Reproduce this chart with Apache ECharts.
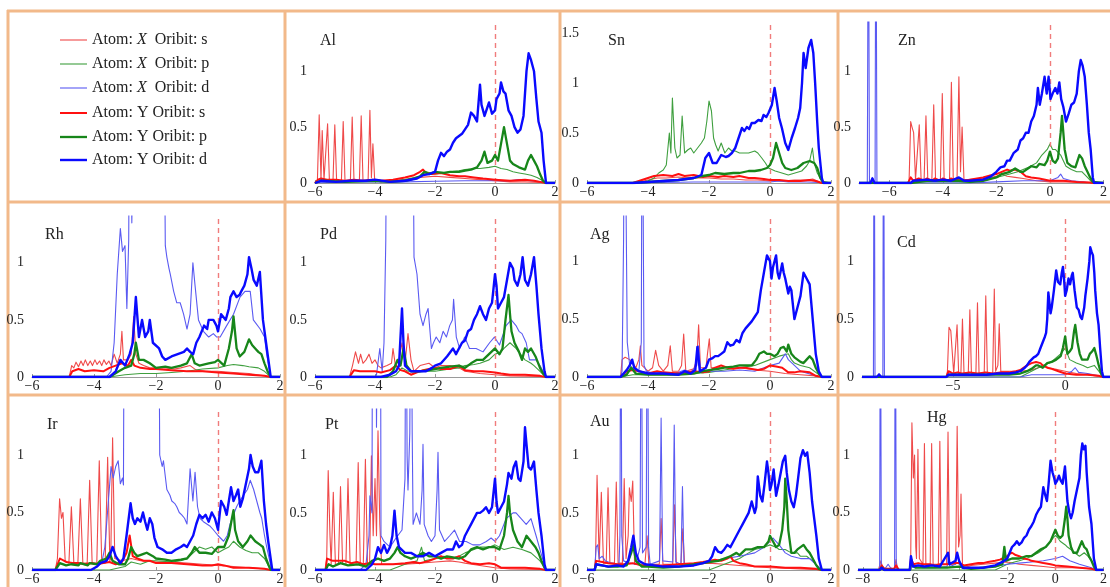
<!DOCTYPE html>
<html>
<head>
<meta charset="utf-8">
<script src="https://cdn.jsdelivr.net/npm/echarts@6/dist/echarts.min.js"></script>
<style>html,body{margin:0;padding:0;background:#fff}#c{width:1110px;height:587px}</style>
</head>
<body>
<div id="c"></div>
<script>
// ---------------- DATA ----------------
const legendLabels = ['Atom: {i|X}  Oribit: s','Atom: {i|X}  Oribit: p','Atom: {i|X}  Oribit: d','Atom: Y Oribit: s','Atom: Y Oribit: p','Atom: Y Oribit: d'];
const panelNames = ['Al','Sn','Zn','Rh','Pd','Ag','Cd','Ir','Pt','Au','Hg'];
const xTicksStd = [-6,-4,-2,0,2];
const xTicksZn = [-6,-4,-2,0,2];
const xTicksCd = [-5,0];
const xTicksHg = [-8,-6,-4,-2,0,2];
const yTicksStd = [0,0.5,1];
const yTicksSn = [0,0.5,1,1.5];

const Al_Xs=[[-6,0],[-5.95,0],[-5.92,0.02],[-5.86,0.61],[-5.8,0.03],[-5.76,0.47],[-5.7,0.03],[-5.64,0.02],[-5.58,0.53],[-5.52,0.02],[-5.4,0.02],[-5.34,0.52],[-5.28,0.02],[-5.12,0.02],[-5.06,0.55],[-5.0,0.02],[-4.82,0.02],[-4.76,0.59],[-4.7,0.02],[-4.52,0.02],[-4.46,0.6],[-4.4,0.02],[-4.23,0.02],[-4.17,0.65],[-4.12,0.05],[-4.07,0.35],[-4.01,0.02],[-3.8,0.01],[-3.5,0.02],[-3,0.03],[-2.5,0.05],[-2,0.06],[-1.5,0.05],[-1,0.04],[-0.5,0.03],[0,0.02],[0.5,0.01],[1,0.01],[1.5,0.005],[1.7,0],[2,0]];
const Al_Xp=[[-6,0],[-5.9,0.01],[-5.5,0.02],[-5,0.01],[-4.5,0.02],[-4,0.02],[-3.5,0.01],[-3,0.03],[-2.5,0.06],[-2.3,0.1],[-2,0.08],[-1.7,0.09],[-1.5,0.1],[-1.2,0.11],[-1,0.12],[-0.7,0.13],[-0.5,0.13],[-0.2,0.14],[0,0.15],[0.2,0.13],[0.4,0.12],[0.6,0.1],[0.8,0.09],[1,0.08],[1.2,0.07],[1.4,0.05],[1.6,0.02],[1.7,0],[2,0]];
const Al_Xd=[[-6,0],[-5,0.01],[-4,0.01],[-3,0.01],[-2,0.015],[-1,0.02],[0,0.02],[0.5,0.02],[0.8,0.03],[1.2,0.02],[1.6,0.01],[1.7,0],[2,0]];
const Al_Ys=[[-6,0],[-5.9,0.03],[-5.8,0.04],[-5.6,0.03],[-5.3,0.03],[-5,0.02],[-4.7,0.03],[-4.4,0.02],[-4.1,0.03],[-3.8,0.02],[-3.4,0.03],[-3,0.05],[-2.7,0.07],[-2.5,0.1],[-2.4,0.12],[-2.3,0.09],[-2.1,0.08],[-1.8,0.09],[-1.5,0.07],[-1.2,0.06],[-1,0.06],[-0.7,0.05],[-0.4,0.04],[0,0.03],[0.5,0.02],[1,0.03],[1.3,0.02],[1.5,0.01],[1.7,0],[2,0]];
const Al_Yp=[[-6,0],[-5.8,0.02],[-5,0.01],[-4,0.02],[-3.5,0.01],[-3,0.02],[-2.7,0.04],[-2.5,0.06],[-2.35,0.1],[-2.2,0.08],[-2,0.1],[-1.7,0.09],[-1.5,0.1],[-1.2,0.1],[-1,0.11],[-0.8,0.12],[-0.6,0.14],[-0.45,0.2],[-0.35,0.28],[-0.25,0.18],[-0.1,0.2],[0,0.25],[0.1,0.2],[0.2,0.35],[0.3,0.5],[0.4,0.35],[0.5,0.2],[0.6,0.17],[0.8,0.14],[1,0.12],[1.1,0.2],[1.2,0.25],[1.3,0.2],[1.4,0.15],[1.5,0.08],[1.6,0.02],[1.7,0],[2,0]];
const Al_Yd=[[-6,0],[-5.8,0.02],[-5.3,0.01],[-4.8,0.02],[-4.3,0.02],[-4,0.03],[-3.5,0.01],[-3,0.02],[-2.6,0.04],[-2.4,0.07],[-2.2,0.08],[-2,0.1],[-1.9,0.2],[-1.8,0.27],[-1.7,0.24],[-1.6,0.28],[-1.5,0.3],[-1.4,0.36],[-1.3,0.4],[-1.2,0.42],[-1.1,0.44],[-1,0.48],[-0.9,0.52],[-0.8,0.63],[-0.7,0.6],[-0.6,0.55],[-0.5,0.88],[-0.45,0.7],[-0.35,0.6],[-0.2,0.72],[-0.1,0.62],[0,0.65],[0.05,0.75],[0.15,0.8],[0.2,0.9],[0.28,0.82],[0.35,0.8],[0.45,0.65],[0.55,0.6],[0.65,0.5],[0.75,0.45],[0.85,0.48],[0.95,0.6],[1.05,1.0],[1.12,1.16],[1.2,1.1],[1.3,1.0],[1.38,0.75],[1.45,0.55],[1.55,0.45],[1.62,0.2],[1.7,0],[2,0]];

const Sn_Xs=[[-6,0],[-4.5,0],[-4.3,0.01],[-4,0.03],[-3.7,0.05],[-3.4,0.05],[-3,0.06],[-2.7,0.05],[-2.4,0.05],[-2,0.05],[-1.6,0.04],[-1.2,0.04],[-0.8,0.03],[-0.4,0.03],[0,0.02],[0.4,0.02],[0.8,0.03],[1.2,0.03],[1.4,0.04],[1.55,0.02],[1.7,0],[2,0]];
const Sn_Xp=[[-6,0],[-4.5,0],[-4.2,0.01],[-4,0.02],[-3.8,0.05],[-3.65,0.1],[-3.5,0.13],[-3.4,0.18],[-3.3,0.5],[-3.25,0.3],[-3.2,0.85],[-3.12,0.35],[-3.05,0.25],[-2.95,0.28],[-2.88,0.67],[-2.8,0.3],[-2.7,0.33],[-2.6,0.35],[-2.5,0.3],[-2.4,0.34],[-2.25,0.4],[-2.15,0.45],[-2.07,0.62],[-2.0,0.82],[-1.92,0.72],[-1.85,0.45],[-1.78,0.38],[-1.7,0.32],[-1.6,0.4],[-1.55,0.42],[-1.48,0.3],[-1.36,0.35],[-1.25,0.32],[-1.14,0.32],[-1.0,0.3],[-0.9,0.3],[-0.7,0.3],[-0.5,0.32],[-0.4,0.3],[-0.27,0.25],[-0.15,0.2],[-0.05,0.15],[0.17,0.12],[0.39,0.1],[0.6,0.08],[0.82,0.1],[1.04,0.12],[1.2,0.17],[1.3,0.22],[1.39,0.35],[1.45,0.2],[1.55,0.1],[1.7,0.02],[1.75,0],[2,0]];
const Sn_Xd=[[-6,0],[-4.5,0],[-3.5,0.005],[-2.5,0.01],[-1.5,0.01],[-0.5,0.01],[0,0.01],[0.3,0.02],[0.6,0.01],[1.2,0.01],[1.6,0.005],[1.7,0],[2,0]];
const Sn_Ys=[[-6,0],[-4.5,0],[-4.3,0.02],[-4,0.05],[-3.8,0.07],[-3.5,0.08],[-3.2,0.07],[-3,0.09],[-2.8,0.07],[-2.5,0.08],[-2.2,0.06],[-2,0.07],[-1.7,0.06],[-1.5,0.07],[-1.2,0.06],[-1,0.07],[-0.7,0.05],[-0.5,0.05],[-0.2,0.04],[0,0.03],[0.3,0.03],[0.6,0.02],[1,0.02],[1.3,0.03],[1.5,0.02],[1.7,0],[2,0]];
const Sn_Yp=[[-6,0],[-4.5,0],[-4,0.01],[-3.5,0.02],[-3,0.03],[-2.5,0.05],[-2.2,0.07],[-2,0.08],[-1.8,0.1],[-1.5,0.09],[-1.2,0.1],[-1,0.1],[-0.7,0.12],[-0.5,0.12],[-0.3,0.13],[-0.1,0.15],[0,0.18],[0.1,0.25],[0.2,0.4],[0.3,0.3],[0.4,0.2],[0.5,0.15],[0.7,0.13],[0.9,0.15],[1.1,0.2],[1.3,0.22],[1.45,0.2],[1.55,0.15],[1.65,0.05],[1.75,0],[2,0]];
const Sn_Yd=[[-6,0],[-4.5,0],[-4,0.01],[-3.5,0.02],[-3,0.03],[-2.5,0.05],[-2.25,0.08],[-2.12,0.25],[-2.0,0.3],[-1.88,0.2],[-1.75,0.2],[-1.6,0.28],[-1.45,0.26],[-1.36,0.27],[-1.25,0.3],[-1.14,0.35],[-1.03,0.45],[-0.92,0.55],[-0.84,0.52],[-0.76,0.56],[-0.68,0.54],[-0.6,0.6],[-0.5,0.6],[-0.38,0.63],[-0.28,0.62],[-0.21,0.68],[-0.12,0.66],[-0.05,0.7],[0.06,0.78],[0.15,0.95],[0.22,0.82],[0.3,0.65],[0.39,0.55],[0.5,0.4],[0.6,0.33],[0.71,0.45],[0.82,0.55],[0.92,0.65],[0.99,0.75],[1.05,1.0],[1.1,1.3],[1.17,1.15],[1.26,1.35],[1.35,1.43],[1.42,1.3],[1.48,1.0],[1.55,0.6],[1.6,0.35],[1.7,0.05],[1.75,0],[2,0]];

const Zn_Xs=[[-7.13,0],[-5.3,0],[-5.26,0.02],[-5.2,0.55],[-5.15,0.5],[-5.09,0.45],[-5.02,0.03],[-4.95,0.02],[-4.88,0.52],[-4.81,0.02],[-4.7,0.02],[-4.63,0.6],[-4.56,0.02],[-4.41,0.02],[-4.34,0.7],[-4.27,0.02],[-4.09,0.02],[-4.02,0.8],[-3.95,0.02],[-3.75,0.02],[-3.68,0.9],[-3.61,0.03],[-3.47,0.03],[-3.4,0.95],[-3.34,0.1],[-3.28,0.5],[-3.21,0.03],[-3,0.03],[-2.5,0.04],[-2.2,0.05],[-2,0.06],[-1.8,0.08],[-1.6,0.06],[-1.3,0.05],[-1,0.04],[-0.5,0.02],[0,0.01],[0.5,0.01],[1,0.01],[1.6,0],[2,0]];
const Zn_Xp=[[-7.13,0],[-3,0],[-2.5,0.02],[-2,0.05],[-1.5,0.08],[-1.2,0.1],[-1,0.12],[-0.8,0.14],[-0.5,0.18],[-0.3,0.25],[-0.1,0.3],[0,0.35],[0.1,0.3],[0.2,0.3],[0.4,0.25],[0.5,0.2],[0.6,0.15],[0.8,0.12],[1,0.1],[1.2,0.1],[1.4,0.05],[1.6,0],[2,0]];
const Zn_Xd=[[-7.13,0],[-6.82,0],[-6.78,3],[-6.74,0],[-6.68,0.02],[-6.63,0.05],[-6.58,0.02],[-6.53,0],[-6.5,3],[-6.46,0],[-3,0],[-2,0.01],[-1,0.02],[0,0.02],[0.3,0.05],[0.4,0.08],[0.5,0.04],[0.8,0.02],[1.2,0.01],[1.6,0],[2,0]];
const Zn_Ys=[[-7.13,0],[-5.3,0],[-5.2,0.05],[-5.1,0.02],[-4.9,0.04],[-4.7,0.02],[-4.6,0.04],[-4.4,0.02],[-4.3,0.04],[-4.1,0.02],[-4,0.04],[-3.8,0.02],[-3.7,0.04],[-3.5,0.02],[-3.4,0.04],[-3.2,0.02],[-3,0.03],[-2.5,0.05],[-2.2,0.07],[-2,0.08],[-1.8,0.1],[-1.6,0.12],[-1.5,0.11],[-1.3,0.12],[-1.1,0.1],[-0.9,0.06],[-0.7,0.05],[-0.4,0.04],[0,0.02],[0.5,0.02],[1,0.01],[1.5,0.005],[1.6,0],[2,0]];
const Zn_Yp=[[-7.13,0],[-5.2,0],[-4.6,0.02],[-4,0.02],[-3.4,0.02],[-3,0.01],[-2.5,0.02],[-2,0.05],[-1.8,0.08],[-1.5,0.1],[-1.3,0.13],[-1.1,0.1],[-1,0.1],[-0.7,0.15],[-0.5,0.14],[-0.4,0.17],[-0.2,0.16],[-0.1,0.2],[0,0.28],[0.1,0.2],[0.2,0.18],[0.3,0.22],[0.4,0.45],[0.45,0.6],[0.5,0.45],[0.55,0.3],[0.65,0.18],[0.8,0.15],[0.95,0.14],[1.1,0.25],[1.2,0.22],[1.3,0.15],[1.4,0.1],[1.5,0.05],[1.6,0.01],[1.65,0],[2,0]];
const Zn_Yd=[[-7.13,0],[-6.7,0],[-6.63,0.04],[-6.55,0],[-5.2,0],[-5.1,0.02],[-4.6,0.03],[-4.3,0.02],[-4,0.03],[-3.7,0.02],[-3.4,0.05],[-3.2,0.02],[-3,0.02],[-2.5,0.03],[-2.2,0.06],[-2,0.1],[-1.85,0.14],[-1.7,0.15],[-1.6,0.2],[-1.5,0.2],[-1.35,0.27],[-1.2,0.3],[-1.1,0.38],[-1,0.4],[-0.9,0.45],[-0.8,0.45],[-0.7,0.55],[-0.6,0.6],[-0.5,0.7],[-0.45,0.85],[-0.38,0.7],[-0.3,0.8],[-0.2,0.95],[-0.12,0.8],[-0.05,0.95],[0.02,0.75],[0.1,0.8],[0.2,0.85],[0.28,0.8],[0.35,0.9],[0.42,0.75],[0.5,0.68],[0.6,0.55],[0.7,0.62],[0.8,0.7],[0.9,0.72],[1.0,0.8],[1.08,1.0],[1.15,1.1],[1.22,1.05],[1.3,0.95],[1.38,0.7],[1.45,0.45],[1.52,0.3],[1.6,0.05],[1.65,0],[2,0]];

const Rh_Xs=[[-6,0],[-4.8,0],[-4.72,0.1],[-4.65,0.08],[-4.58,0.13],[-4.5,0.09],[-4.42,0.14],[-4.35,0.1],[-4.28,0.15],[-4.2,0.1],[-4.12,0.14],[-4.05,0.1],[-3.97,0.15],[-3.9,0.11],[-3.82,0.14],[-3.75,0.1],[-3.68,0.15],[-3.6,0.11],[-3.52,0.14],[-3.45,0.1],[-3.35,0.2],[-3.25,0.12],[-3.15,0.2],[-3.1,0.4],[-3.05,0.15],[-2.9,0.15],[-2.8,0.2],[-2.72,0.53],[-2.65,0.2],[-2.55,0.12],[-2.4,0.1],[-2.2,0.08],[-2,0.08],[-1.7,0.08],[-1.4,0.07],[-1.2,0.08],[-0.9,0.1],[-0.7,0.06],[-0.4,0.05],[0,0.05],[0.5,0.04],[1,0.03],[1.5,0.01],[1.7,0],[2,0]];
const Rh_Xp=[[-6,0],[-3.5,0],[-3,0.02],[-2.5,0.03],[-2,0.03],[-1.5,0.04],[-1,0.05],[-0.5,0.07],[0,0.08],[0.3,0.1],[0.5,0.11],[0.8,0.1],[1,0.09],[1.3,0.08],[1.5,0.05],[1.7,0],[2,0]];
const Rh_Xd=[[-6,0],[-3.6,0],[-3.45,0.05],[-3.35,0.3],[-3.25,0.9],[-3.15,1.3],[-3.08,1.1],[-3.0,1.15],[-2.94,0.6],[-2.88,1.2],[-2.85,3],[-2.8,3],[-2.78,1.35],[-2.7,3],[-1.75,3],[-1.7,1.15],[-1.65,1.05],[-1.58,0.95],[-1.54,0.9],[-1.43,0.75],[-1.33,0.65],[-1.22,0.65],[-1.11,0.55],[-1.0,0.42],[-0.9,0.55],[-0.81,1.0],[-0.74,0.8],[-0.63,0.5],[-0.47,0.4],[-0.3,0.35],[-0.15,0.38],[-0.04,0.35],[0.07,0.35],[0.28,0.45],[0.5,0.55],[0.71,0.7],[0.87,0.75],[1.04,0.75],[1.14,0.5],[1.36,0.42],[1.5,0.35],[1.57,0.2],[1.7,0],[2,0]];
const Rh_Ys=[[-6,0],[-4.8,0],[-4.7,0.05],[-4.5,0.07],[-4.3,0.05],[-4,0.06],[-3.7,0.05],[-3.5,0.08],[-3.3,0.1],[-3.1,0.12],[-2.9,0.1],[-2.8,0.15],[-2.7,0.1],[-2.5,0.08],[-2.2,0.07],[-2,0.07],[-1.5,0.06],[-1,0.05],[-0.5,0.05],[0,0.04],[0.5,0.03],[1,0.02],[1.5,0.01],[1.7,0],[2,0]];
const Rh_Yp=[[-6,0],[-3.5,0],[-3.2,0.05],[-3,0.08],[-2.8,0.1],[-2.7,0.2],[-2.65,0.3],[-2.55,0.15],[-2.4,0.15],[-2.2,0.12],[-2,0.08],[-1.7,0.09],[-1.5,0.08],[-1.2,0.1],[-1,0.12],[-0.85,0.2],[-0.75,0.12],[-0.6,0.1],[-0.3,0.12],[-0.1,0.13],[0,0.15],[0.2,0.1],[0.35,0.25],[0.45,0.4],[0.5,0.53],[0.6,0.25],[0.7,0.18],[0.85,0.22],[1.0,0.33],[1.1,0.28],[1.2,0.25],[1.3,0.22],[1.4,0.2],[1.5,0.12],[1.6,0.05],[1.7,0],[2,0]];
const Rh_Yd=[[-6,0],[-3.5,0],[-3.3,0.05],[-3.15,0.15],[-3.0,0.1],[-2.85,0.2],[-2.75,0.3],[-2.65,0.7],[-2.55,0.35],[-2.45,0.5],[-2.35,0.35],[-2.25,0.4],[-2.2,0.5],[-2.1,0.3],[-1.9,0.25],[-1.8,0.18],[-1.7,0.15],[-1.5,0.18],[-1.3,0.2],[-1.1,0.22],[-1.0,0.25],[-0.9,0.22],[-0.8,0.2],[-0.7,0.3],[-0.6,0.35],[-0.45,0.45],[-0.35,0.42],[-0.3,0.5],[-0.15,0.5],[-0.05,0.45],[0,0.4],[0.1,0.55],[0.25,0.5],[0.35,0.6],[0.4,0.7],[0.5,0.75],[0.6,0.7],[0.7,0.72],[0.75,0.75],[0.85,0.8],[0.95,0.9],[1.0,1.05],[1.08,0.95],[1.15,0.85],[1.25,0.8],[1.35,0.92],[1.45,0.5],[1.55,0.3],[1.6,0.2],[1.7,0],[2,0]];

const Pd_Xs=[[-6,0],[-4.85,0],[-4.75,0.1],[-4.65,0.22],[-4.55,0.12],[-4.48,0.2],[-4.4,0.12],[-4.3,0.15],[-4.2,0.2],[-4.1,0.12],[-4.0,0.15],[-3.9,0.1],[-3.8,0.08],[-3.6,0.1],[-3.45,0.12],[-3.4,0.25],[-3.32,0.1],[-3.2,0.15],[-3.1,0.3],[-3.0,0.12],[-2.9,0.38],[-2.8,0.15],[-2.7,0.05],[-2.5,0.1],[-2.2,0.12],[-2,0.08],[-1.8,0.1],[-1.5,0.1],[-1.2,0.08],[-1,0.05],[-0.5,0.03],[0,0.02],[0.5,0.01],[1.5,0.005],[1.7,0],[2,0]];
const Pd_Xp=[[-6,0],[-3.5,0],[-3.3,0.02],[-3.1,0.08],[-2.9,0.05],[-2.5,0.05],[-2,0.05],[-1.5,0.07],[-1.2,0.08],[-1,0.1],[-0.7,0.11],[-0.5,0.12],[-0.2,0.15],[0,0.2],[0.2,0.22],[0.3,0.25],[0.5,0.3],[0.7,0.25],[0.85,0.2],[1,0.15],[1.2,0.12],[1.3,0.1],[1.5,0.05],[1.7,0],[2,0]];
const Pd_Xd=[[-6,0],[-4,0],[-3.95,0.02],[-3.84,0.25],[-3.76,0.05],[-3.7,0.3],[-3.64,1.2],[-3.6,3],[-2.75,3],[-2.7,1.05],[-2.65,1.05],[-2.6,0.9],[-2.5,0.55],[-2.4,0.45],[-2.3,0.55],[-2.23,0.6],[-2.12,0.25],[-2.05,0.3],[-1.96,0.35],[-1.84,0.3],[-1.73,0.4],[-1.62,0.35],[-1.51,0.45],[-1.42,0.5],[-1.38,0.68],[-1.29,0.35],[-1.18,0.25],[-1.01,0.35],[-0.85,0.25],[-0.63,0.25],[-0.4,0.22],[-0.18,0.3],[-0.02,0.35],[0.15,0.28],[0.37,0.45],[0.54,0.5],[0.7,0.45],[0.8,0.4],[0.9,0.38],[1.04,0.3],[1.15,0.15],[1.37,0.15],[1.5,0.1],[1.6,0.05],[1.7,0],[2,0]];
const Pd_Ys=[[-6,0],[-4.85,0],[-4.7,0.06],[-4.5,0.05],[-4.2,0.05],[-4,0.05],[-3.8,0.04],[-3.5,0.06],[-3.3,0.1],[-3.15,0.06],[-3.0,0.05],[-2.8,0.02],[-2.6,0.04],[-2.4,0.06],[-2.2,0.07],[-2,0.08],[-1.8,0.07],[-1.5,0.07],[-1.2,0.1],[-1.0,0.06],[-0.7,0.05],[-0.4,0.05],[0,0.04],[0.2,0.03],[0.5,0.02],[1,0.02],[1.5,0.01],[1.7,0],[2,0]];
const Pd_Yp=[[-6,0],[-3.6,0],[-3.4,0.05],[-3.25,0.15],[-3.15,0.1],[-3.05,0.25],[-2.95,0.1],[-2.8,0.05],[-2.5,0.05],[-2.2,0.06],[-2,0.07],[-1.8,0.08],[-1.5,0.09],[-1.2,0.1],[-1,0.08],[-0.8,0.12],[-0.6,0.15],[-0.4,0.15],[-0.2,0.2],[0,0.25],[0.15,0.2],[0.25,0.25],[0.35,0.5],[0.45,0.72],[0.5,0.55],[0.55,0.4],[0.65,0.3],[0.8,0.22],[0.9,0.15],[1.0,0.25],[1.1,0.22],[1.2,0.25],[1.35,0.18],[1.5,0.08],[1.6,0.03],[1.7,0],[2,0]];
const Pd_Yd=[[-6,0],[-3.8,0],[-3.5,0.02],[-3.3,0.05],[-3.2,0.1],[-3.1,0.6],[-3.05,0.3],[-3.0,0.1],[-2.8,0.05],[-2.5,0.05],[-2.3,0.05],[-2.1,0.08],[-2.0,0.1],[-1.8,0.12],[-1.6,0.18],[-1.4,0.25],[-1.3,0.2],[-1.1,0.3],[-1.0,0.32],[-0.9,0.4],[-0.8,0.42],[-0.7,0.5],[-0.6,0.55],[-0.5,0.62],[-0.4,0.55],[-0.3,0.5],[-0.2,0.6],[-0.1,0.65],[0,0.9],[0.05,0.8],[0.1,0.6],[0.2,0.65],[0.3,0.7],[0.4,0.85],[0.5,1.0],[0.6,0.95],[0.65,0.85],[0.75,0.8],[0.85,0.9],[0.92,1.05],[1.0,0.85],[1.1,0.8],[1.2,0.9],[1.3,1.05],[1.38,0.8],[1.45,0.55],[1.55,0.25],[1.65,0.05],[1.7,0],[2,0]];

const Ag_Xs=[[-6,0],[-4.9,0],[-4.85,0.15],[-4.75,0.17],[-4.6,0.15],[-4.5,0.12],[-4.4,0.08],[-4.3,0.15],[-4.25,0.27],[-4.2,0.1],[-4.0,0.05],[-3.85,0.08],[-3.75,0.23],[-3.65,0.1],[-3.5,0.05],[-3.35,0.1],[-3.27,0.27],[-3.2,0.05],[-3.0,0.05],[-2.9,0.1],[-2.83,0.37],[-2.76,0.05],[-2.5,0.07],[-2.4,0.15],[-2.34,0.45],[-2.28,0.08],[-2.1,0.08],[-2.05,0.2],[-1.99,0.33],[-1.93,0.08],[-1.7,0.08],[-1.5,0.09],[-1.2,0.08],[-1,0.08],[-0.5,0.06],[0,0.05],[0.5,0.03],[1,0.02],[1.5,0.01],[1.7,0],[2,0]];
const Ag_Xp=[[-6,0],[-4.9,0],[-4.5,0.02],[-4,0.02],[-3,0.02],[-2.5,0.03],[-2,0.04],[-1.5,0.06],[-1,0.08],[-0.5,0.1],[0,0.15],[0.3,0.18],[0.6,0.2],[0.7,0.15],[0.8,0.12],[1.0,0.1],[1.3,0.08],[1.6,0.02],[1.7,0],[2,0]];
const Ag_Xd=[[-6,0],[-4.9,0],[-4.85,0.05],[-4.8,1.2],[-4.77,3],[-4.72,3],[-4.68,0.3],[-4.6,0.1],[-4.53,0.08],[-4.4,0.06],[-4.3,0.05],[-4.22,0.3],[-4.19,3],[-4.16,3],[-4.13,0.1],[-4.05,0.05],[-3.8,0.03],[-3.5,0.04],[-3.2,0.03],[-3.0,0.04],[-2.8,0.06],[-2.6,0.04],[-2.4,0.1],[-2.34,0.27],[-2.28,0.05],[-2,0.05],[-1.5,0.05],[-1,0.06],[-0.5,0.05],[-0.2,0.08],[0,0.1],[0.3,0.12],[0.5,0.2],[0.6,0.15],[0.8,0.1],[1,0.05],[1.5,0.01],[1.7,0],[2,0]];
const Ag_Ys=[[-6,0],[-4.9,0],[-4.7,0.05],[-4.5,0.06],[-4.3,0.05],[-4,0.03],[-3.7,0.05],[-3.5,0.04],[-3,0.03],[-2.7,0.04],[-2.5,0.05],[-2.2,0.04],[-2,0.05],[-1.8,0.08],[-1.6,0.1],[-1.4,0.08],[-1.2,0.07],[-1,0.08],[-0.8,0.08],[-0.6,0.07],[-0.4,0.06],[-0.2,0.07],[0,0.1],[0.2,0.09],[0.4,0.08],[0.6,0.04],[0.8,0.04],[1,0.05],[1.3,0.04],[1.5,0.01],[1.7,0],[2,0]];
const Ag_Yp=[[-6,0],[-4.9,0],[-4.7,0.02],[-4.55,0.08],[-4.4,0.03],[-4,0.02],[-3.5,0.02],[-3,0.02],[-2.5,0.03],[-2.2,0.05],[-2,0.06],[-1.7,0.07],[-1.5,0.08],[-1.2,0.09],[-1,0.1],[-0.8,0.1],[-0.6,0.1],[-0.45,0.15],[-0.35,0.2],[-0.2,0.22],[-0.1,0.2],[0,0.2],[0.15,0.18],[0.25,0.2],[0.35,0.25],[0.45,0.26],[0.55,0.22],[0.6,0.28],[0.7,0.2],[0.8,0.17],[0.9,0.15],[1.0,0.13],[1.1,0.12],[1.2,0.15],[1.3,0.18],[1.4,0.15],[1.5,0.08],[1.6,0.03],[1.7,0],[2,0]];
const Ag_Yd=[[-6,0],[-4.9,0],[-4.8,0.03],[-4.7,0.06],[-4.6,0.1],[-4.52,0.15],[-4.45,0.08],[-4.3,0.05],[-4.0,0.03],[-3.5,0.03],[-3,0.02],[-2.8,0.05],[-2.6,0.03],[-2.45,0.06],[-2.38,0.26],[-2.3,0.05],[-2.1,0.08],[-2.0,0.15],[-1.9,0.16],[-1.8,0.18],[-1.7,0.18],[-1.6,0.2],[-1.5,0.22],[-1.4,0.3],[-1.3,0.27],[-1.2,0.28],[-1.1,0.32],[-1.0,0.3],[-0.9,0.38],[-0.8,0.42],[-0.7,0.45],[-0.6,0.48],[-0.5,0.52],[-0.4,0.56],[-0.3,0.75],[-0.2,0.9],[-0.1,1.05],[0,1.0],[0.05,0.85],[0.1,0.95],[0.2,1.05],[0.25,0.9],[0.3,0.85],[0.4,0.98],[0.45,0.9],[0.5,0.85],[0.6,0.72],[0.65,0.78],[0.7,0.75],[0.8,0.5],[0.9,0.6],[1.0,0.7],[1.1,0.9],[1.2,0.85],[1.3,0.8],[1.4,0.5],[1.5,0.2],[1.6,0.05],[1.7,0],[2,0]];

const Cd_Xs=[[-9.06,0],[-5.3,0],[-5.25,0.05],[-5.18,0.43],[-5.1,0.4],[-5.03,0.2],[-4.97,0.03],[-4.89,0.03],[-4.82,0.45],[-4.75,0.03],[-4.65,0.03],[-4.58,0.5],[-4.51,0.03],[-4.32,0.03],[-4.25,0.58],[-4.18,0.03],[-3.98,0.03],[-3.91,0.64],[-3.84,0.03],[-3.61,0.03],[-3.54,0.7],[-3.47,0.03],[-3.23,0.03],[-3.16,0.76],[-3.1,0.05],[-3.0,0.1],[-2.94,0.46],[-2.87,0.05],[-2.5,0.05],[-2,0.05],[-1.5,0.06],[-1.2,0.08],[-1,0.1],[-0.7,0.08],[-0.5,0.07],[0,0.05],[0.5,0.03],[1,0.02],[1.5,0.005],[1.7,0],[2,0]];
const Cd_Xp=[[-9.06,0],[-2,0],[-1.5,0.05],[-1.2,0.08],[-1,0.1],[-0.7,0.12],[-0.5,0.15],[-0.2,0.2],[0,0.25],[0.1,0.2],[0.2,0.15],[0.5,0.12],[0.8,0.1],[1,0.08],[1.3,0.1],[1.5,0.05],[1.7,0],[2,0]];
const Cd_Xd=[[-9.06,0],[-8.55,0],[-8.52,3],[-8.48,0],[-8.35,0.01],[-8.3,0.03],[-8.25,0.01],[-8.13,0],[-8.1,3],[-8.06,0],[-2,0],[-1.5,0.02],[-1,0.02],[-0.5,0.02],[0,0.02],[0.3,0.05],[0.45,0.08],[0.6,0.04],[1,0.03],[1.5,0.01],[1.7,0],[2,0]];
const Cd_Ys=[[-9.06,0],[-5.3,0],[-5.2,0.05],[-5.0,0.03],[-4.8,0.04],[-4.6,0.03],[-4.25,0.04],[-3.9,0.03],[-3.55,0.04],[-3.2,0.03],[-2.9,0.04],[-2.5,0.04],[-2.2,0.05],[-2,0.06],[-1.7,0.1],[-1.5,0.12],[-1.3,0.13],[-1.1,0.12],[-1,0.1],[-0.8,0.08],[-0.6,0.07],[-0.3,0.05],[0,0.03],[0.5,0.02],[1,0.02],[1.5,0.01],[1.7,0],[2,0]];
const Cd_Yp=[[-9.06,0],[-5.3,0],[-5.2,0.02],[-4.5,0.02],[-3.5,0.02],[-3,0.02],[-2.5,0.02],[-2,0.03],[-1.7,0.05],[-1.5,0.07],[-1.3,0.1],[-1.2,0.1],[-1,0.08],[-0.8,0.12],[-0.6,0.13],[-0.4,0.15],[-0.2,0.18],[-0.1,0.25],[0,0.35],[0.1,0.2],[0.2,0.22],[0.3,0.25],[0.4,0.4],[0.45,0.45],[0.55,0.3],[0.65,0.2],[0.75,0.15],[0.9,0.15],[1.0,0.15],[1.1,0.2],[1.2,0.22],[1.3,0.25],[1.4,0.18],[1.5,0.1],[1.6,0.03],[1.7,0],[2,0]];
const Cd_Yd=[[-9.06,0],[-8.4,0],[-8.3,0.02],[-8.2,0],[-5.3,0],[-5.2,0.02],[-4.5,0.02],[-4,0.02],[-3.5,0.02],[-3,0.03],[-2.5,0.03],[-2.2,0.04],[-2,0.05],[-1.8,0.08],[-1.7,0.1],[-1.6,0.13],[-1.5,0.15],[-1.4,0.17],[-1.3,0.18],[-1.2,0.2],[-1.1,0.25],[-1.0,0.3],[-0.9,0.35],[-0.85,0.38],[-0.8,0.5],[-0.75,0.73],[-0.65,0.55],[-0.6,0.6],[-0.5,0.75],[-0.4,0.92],[-0.32,0.82],[-0.22,0.8],[-0.15,0.9],[-0.1,0.95],[-0.05,0.85],[0,0.7],[0.07,0.75],[0.15,0.85],[0.22,0.8],[0.3,0.88],[0.34,0.9],[0.42,0.75],[0.52,0.6],[0.6,0.58],[0.68,0.52],[0.75,0.5],[0.85,0.6],[0.9,0.7],[1.0,0.85],[1.08,1.0],[1.12,1.12],[1.18,1.08],[1.24,1.05],[1.3,0.9],[1.34,0.75],[1.42,0.55],[1.49,0.45],[1.56,0.25],[1.64,0.05],[1.7,0],[2,0]];

const Ir_Xs=[[-6,0],[-5.25,0],[-5.18,0.1],[-5.11,0.62],[-5.05,0.45],[-5.0,0.5],[-4.93,0.08],[-4.81,0.06],[-4.73,0.55],[-4.65,0.06],[-4.52,0.06],[-4.44,0.62],[-4.36,0.06],[-4.22,0.06],[-4.14,0.78],[-4.06,0.06],[-3.91,0.06],[-3.83,0.95],[-3.75,0.06],[-3.64,0.06],[-3.56,0.98],[-3.49,0.08],[-3.46,0.1],[-3.4,1.15],[-3.33,0.1],[-3.1,0.08],[-2.8,0.1],[-2.5,0.08],[-2,0.07],[-1.5,0.07],[-1,0.06],[-0.5,0.05],[0,0.04],[0.5,0.03],[1,0.02],[1.5,0.01],[1.7,0],[2,0]];
const Ir_Xp=[[-6,0],[-3.5,0],[-3,0.03],[-2.8,0.07],[-2.5,0.05],[-2.2,0.08],[-2,0.08],[-1.5,0.07],[-1.2,0.08],[-1,0.1],[-0.8,0.15],[-0.6,0.2],[-0.4,0.18],[-0.2,0.2],[0,0.15],[0.2,0.18],[0.35,0.2],[0.5,0.25],[0.7,0.2],[0.9,0.17],[1.1,0.15],[1.3,0.15],[1.5,0.1],[1.7,0],[2,0]];
const Ir_Xd=[[-6,0],[-4.1,0],[-3.9,0.03],[-3.75,0.06],[-3.65,0.2],[-3.55,0.55],[-3.45,0.9],[-3.38,0.8],[-3.3,0.9],[-3.22,0.95],[-3.15,0.75],[-3.08,0.8],[-3.05,0.74],[-3.02,3],[-1.92,3],[-1.88,1.0],[-1.8,0.9],[-1.76,0.95],[-1.65,0.7],[-1.55,0.65],[-1.49,0.6],[-1.4,0.58],[-1.33,0.55],[-1.25,0.5],[-1.17,0.48],[-1.08,0.45],[-1.0,0.4],[-0.9,0.88],[-0.81,0.6],[-0.74,0.85],[-0.66,0.55],[-0.58,0.45],[-0.47,0.42],[-0.36,0.4],[-0.25,0.38],[-0.15,0.35],[0.0,0.3],[0.18,0.25],[0.3,0.3],[0.39,0.4],[0.5,0.48],[0.6,0.55],[0.7,0.6],[0.82,0.65],[0.95,0.7],[1.04,0.78],[1.15,0.7],[1.25,0.6],[1.35,0.5],[1.41,0.45],[1.5,0.3],[1.57,0.2],[1.73,0],[2,0]];
const Ir_Ys=[[-6,0],[-5.25,0],[-5.1,0.1],[-4.9,0.07],[-4.7,0.06],[-4.5,0.06],[-4.3,0.05],[-4.1,0.06],[-3.9,0.05],[-3.7,0.06],[-3.5,0.07],[-3.3,0.05],[-3.1,0.07],[-2.95,0.15],[-2.85,0.3],[-2.75,0.12],[-2.6,0.1],[-2.4,0.08],[-2.2,0.08],[-2,0.06],[-1.5,0.06],[-1,0.05],[-0.5,0.04],[-0.2,0.04],[0,0.05],[0.2,0.04],[0.5,0.02],[1,0.02],[1.5,0.01],[1.7,0],[2,0]];
const Ir_Yp=[[-6,0],[-5.25,0],[-5.1,0.06],[-4.9,0.04],[-4.73,0.05],[-4.5,0.04],[-4.44,0.06],[-4.2,0.04],[-4.14,0.06],[-3.9,0.05],[-3.8,0.08],[-3.6,0.1],[-3.5,0.15],[-3.4,0.08],[-3.2,0.05],[-3,0.05],[-2.9,0.1],[-2.8,0.2],[-2.7,0.15],[-2.6,0.12],[-2.4,0.14],[-2.3,0.15],[-2.1,0.12],[-2,0.1],[-1.7,0.09],[-1.5,0.08],[-1.2,0.09],[-1,0.1],[-0.85,0.15],[-0.75,0.2],[-0.6,0.15],[-0.4,0.15],[-0.2,0.14],[0,0.2],[0.2,0.2],[0.35,0.3],[0.45,0.45],[0.5,0.52],[0.55,0.35],[0.65,0.25],[0.8,0.2],[0.95,0.25],[1.05,0.3],[1.2,0.25],[1.35,0.22],[1.45,0.2],[1.55,0.1],[1.65,0.03],[1.7,0],[2,0]];
const Ir_Yd=[[-6,0],[-4.1,0],[-3.9,0.03],[-3.8,0.06],[-3.6,0.08],[-3.5,0.12],[-3.4,0.2],[-3.3,0.12],[-3.15,0.06],[-3.05,0.1],[-2.95,0.3],[-2.88,0.45],[-2.82,0.58],[-2.75,0.45],[-2.68,0.4],[-2.6,0.45],[-2.5,0.42],[-2.42,0.5],[-2.35,0.42],[-2.28,0.35],[-2.2,0.45],[-2.12,0.4],[-2.05,0.28],[-1.95,0.2],[-1.8,0.18],[-1.65,0.15],[-1.5,0.15],[-1.35,0.18],[-1.2,0.2],[-1.1,0.22],[-1.0,0.2],[-0.9,0.25],[-0.8,0.3],[-0.7,0.4],[-0.6,0.48],[-0.5,0.45],[-0.4,0.48],[-0.3,0.42],[-0.2,0.5],[-0.1,0.45],[0,0.35],[0.1,0.6],[0.2,0.55],[0.28,0.48],[0.35,0.6],[0.42,0.72],[0.5,0.6],[0.58,0.65],[0.65,0.7],[0.72,0.55],[0.8,0.62],[0.9,0.75],[1.0,0.88],[1.05,1.0],[1.12,0.9],[1.2,0.85],[1.3,0.85],[1.4,0.95],[1.48,0.6],[1.55,0.4],[1.62,0.25],[1.75,0],[2,0]];

const Pt_Xs=[[-6,0],[-5.65,0],[-5.61,0.1],[-5.56,0.87],[-5.5,0.3],[-5.46,0.05],[-5.39,0.68],[-5.32,0.05],[-5.22,0.05],[-5.15,0.73],[-5.08,0.05],[-4.97,0.05],[-4.9,0.8],[-4.83,0.05],[-4.63,0.05],[-4.56,0.94],[-4.49,0.05],[-4.39,0.05],[-4.32,0.97],[-4.25,0.05],[-4.18,0.05],[-4.12,1.0],[-4.06,0.3],[-4.0,0.8],[-3.95,0.3],[-3.9,1.22],[-3.84,0.4],[-3.78,0.05],[-3.5,0.05],[-3.0,0.05],[-2.5,0.06],[-2.0,0.07],[-1.5,0.08],[-1.2,0.07],[-1,0.06],[-0.5,0.04],[0,0.02],[0.5,0.01],[1.5,0.005],[1.7,0],[2,0]];
const Pt_Xp=[[-6,0],[-3.5,0],[-3,0.05],[-2.6,0.08],[-2.45,0.2],[-2.35,0.08],[-2,0.1],[-1.7,0.12],[-1.5,0.1],[-1.2,0.12],[-1,0.15],[-0.7,0.18],[-0.5,0.2],[-0.2,0.2],[0,0.22],[0.3,0.18],[0.6,0.2],[0.9,0.18],[1.2,0.15],[1.5,0.08],[1.7,0],[2,0]];
const Pt_Xd=[[-6,0],[-4.5,0],[-4.3,0.05],[-4.2,0.3],[-4.17,0.65],[-4.1,0.5],[-4.08,3],[-3.98,3],[-3.95,1.25],[-3.9,3],[-3.82,3],[-3.8,0.3],[-3.7,0.25],[-3.5,0.2],[-3.3,0.28],[-3.1,0.35],[-3.0,0.8],[-2.97,3],[-2.93,1.0],[-2.9,0.7],[-2.84,1.2],[-2.8,3],[-2.76,1.2],[-2.73,0.4],[-2.62,0.5],[-2.5,0.4],[-2.43,0.7],[-2.4,1.1],[-2.36,0.4],[-2.23,0.3],[-2.12,0.25],[-2.0,0.3],[-1.93,0.7],[-1.9,1.03],[-1.85,0.35],[-1.68,0.25],[-1.51,0.3],[-1.35,0.35],[-1.18,0.25],[-0.96,0.25],[-0.74,0.22],[-0.51,0.22],[-0.29,0.25],[-0.13,0.28],[0,0.25],[0.15,0.3],[0.37,0.45],[0.6,0.5],[0.7,0.5],[0.87,0.45],[1.04,0.4],[1.2,0.45],[1.37,0.3],[1.53,0.15],[1.7,0],[2,0]];
const Pt_Ys=[[-6,0],[-5.65,0],[-5.6,0.1],[-5.4,0.08],[-5.2,0.08],[-5,0.08],[-4.8,0.06],[-4.6,0.07],[-4.4,0.05],[-4.2,0.06],[-4,0.05],[-3.7,0.05],[-3.4,0.05],[-3,0.06],[-2.7,0.07],[-2.5,0.06],[-2.2,0.08],[-2,0.1],[-1.8,0.12],[-1.6,0.1],[-1.4,0.1],[-1.2,0.12],[-1,0.08],[-0.8,0.06],[-0.5,0.05],[-0.2,0.06],[0,0.05],[0.2,0.02],[0.5,0.02],[1,0.02],[1.5,0.01],[1.7,0],[2,0]];
const Pt_Yp=[[-6,0],[-5.65,0],[-5.55,0.05],[-5.4,0.03],[-5.15,0.06],[-4.9,0.04],[-4.56,0.05],[-4.3,0.03],[-4.1,0.08],[-3.9,0.1],[-3.7,0.08],[-3.5,0.1],[-3.35,0.15],[-3.25,0.2],[-3.15,0.15],[-3.0,0.12],[-2.8,0.1],[-2.6,0.12],[-2.4,0.15],[-2.2,0.12],[-2.0,0.12],[-1.8,0.1],[-1.6,0.12],[-1.4,0.11],[-1.2,0.1],[-1.0,0.12],[-0.8,0.18],[-0.6,0.2],[-0.4,0.18],[-0.2,0.2],[0,0.2],[0.15,0.18],[0.3,0.3],[0.4,0.5],[0.45,0.65],[0.5,0.5],[0.6,0.35],[0.75,0.25],[0.9,0.2],[1.05,0.3],[1.2,0.25],[1.35,0.2],[1.45,0.15],[1.55,0.08],[1.65,0.02],[1.7,0],[2,0]];
const Pt_Yd=[[-6,0],[-4.3,0],[-4.1,0.05],[-4.0,0.1],[-3.9,0.2],[-3.8,0.15],[-3.7,0.22],[-3.6,0.15],[-3.5,0.2],[-3.42,0.3],[-3.35,0.52],[-3.28,0.3],[-3.2,0.2],[-3.0,0.15],[-2.8,0.15],[-2.6,0.12],[-2.4,0.12],[-2.2,0.15],[-2.0,0.12],[-1.8,0.15],[-1.6,0.18],[-1.4,0.18],[-1.3,0.25],[-1.2,0.2],[-1.1,0.22],[-1.0,0.3],[-0.9,0.35],[-0.8,0.4],[-0.7,0.45],[-0.6,0.5],[-0.5,0.5],[-0.4,0.52],[-0.3,0.55],[-0.2,0.5],[-0.1,0.55],[0,0.8],[0.05,0.6],[0.1,0.5],[0.2,0.55],[0.3,0.6],[0.4,0.75],[0.45,0.85],[0.55,0.8],[0.62,0.9],[0.7,0.95],[0.78,0.8],[0.85,0.78],[0.95,0.95],[1.0,1.25],[1.05,1.1],[1.12,0.9],[1.2,0.88],[1.3,0.95],[1.38,0.7],[1.45,0.5],[1.55,0.3],[1.65,0.05],[1.7,0],[2,0]];

const Au_Xs=[[-6,0],[-5.75,0],[-5.72,0.1],[-5.67,0.83],[-5.6,0.08],[-5.53,0.68],[-5.46,0.06],[-5.37,0.06],[-5.31,0.72],[-5.25,0.06],[-5.1,0.06],[-5.04,0.77],[-4.98,0.06],[-4.84,0.06],[-4.78,0.8],[-4.72,0.1],[-4.65,0.3],[-4.61,0.72],[-4.55,0.6],[-4.5,0.78],[-4.44,0.05],[-4.1,0.05],[-4.03,0.3],[-3.97,0.05],[-3.63,0.05],[-3.57,0.45],[-3.51,0.05],[-3.19,0.05],[-3.13,0.57],[-3.07,0.05],[-2.92,0.05],[-2.86,0.36],[-2.8,0.05],[-2.5,0.05],[-2,0.06],[-1.5,0.05],[-1,0.04],[-0.5,0.03],[0,0.02],[0.5,0.015],[1,0.01],[1.5,0.005],[1.7,0],[2,0]];
const Au_Xp=[[-6,0],[-2,0],[-1.5,0.05],[-1.2,0.08],[-1,0.1],[-0.7,0.15],[-0.5,0.18],[-0.2,0.2],[0,0.22],[0.2,0.2],[0.3,0.18],[0.5,0.18],[0.7,0.15],[0.9,0.15],[1.0,0.12],[1.2,0.12],[1.4,0.08],[1.5,0.05],[1.7,0],[2,0]];
const Au_Xd=[[-6,0],[-5.75,0],[-5.7,0.2],[-5.65,0.22],[-5.6,0.1],[-5.5,0.12],[-5.4,0.08],[-5.2,0.06],[-4.95,0.05],[-4.92,0.3],[-4.89,3],[-4.86,0.3],[-4.8,0.08],[-4.6,0.06],[-4.4,0.05],[-4.26,0.2],[-4.22,3],[-4.18,0.15],[-4.06,0.2],[-4.02,3],[-3.98,0.2],[-3.93,0.05],[-3.62,0.08],[-3.57,1.33],[-3.52,0.08],[-3.19,0.07],[-3.14,1.27],[-3.09,0.07],[-2.92,0.05],[-2.87,0.73],[-2.82,0.05],[-2.5,0.05],[-2,0.07],[-1.5,0.1],[-1,0.12],[-0.5,0.15],[-0.2,0.2],[0,0.25],[0.1,0.28],[0.3,0.22],[0.5,0.15],[0.7,0.12],[1,0.1],[1.3,0.1],[1.5,0.05],[1.7,0],[2,0]];
const Au_Ys=[[-6,0],[-5.75,0],[-5.7,0.08],[-5.5,0.07],[-5.3,0.06],[-5,0.05],[-4.8,0.05],[-4.5,0.06],[-4.2,0.04],[-4,0.04],[-3.5,0.04],[-3,0.05],[-2.5,0.06],[-2.2,0.07],[-2,0.08],[-1.8,0.09],[-1.6,0.08],[-1.4,0.1],[-1.3,0.12],[-1.2,0.08],[-1,0.06],[-0.8,0.05],[-0.5,0.03],[0,0.03],[0.5,0.02],[1,0.02],[1.5,0.01],[1.7,0],[2,0]];
const Au_Yp=[[-6,0],[-5.75,0],[-5.7,0.05],[-5.3,0.03],[-5,0.03],[-4.7,0.04],[-4.55,0.15],[-4.48,0.22],[-4.4,0.08],[-4.2,0.03],[-4,0.03],[-3.5,0.02],[-3,0.03],[-2.5,0.05],[-2.2,0.06],[-2,0.07],[-1.7,0.08],[-1.5,0.1],[-1.3,0.12],[-1.1,0.15],[-1.0,0.13],[-0.8,0.18],[-0.6,0.18],[-0.4,0.2],[-0.2,0.2],[-0.05,0.25],[0,0.3],[0.1,0.25],[0.2,0.2],[0.3,0.22],[0.4,0.35],[0.47,0.55],[0.5,0.8],[0.55,0.6],[0.6,0.35],[0.7,0.15],[0.8,0.15],[0.9,0.18],[1.0,0.2],[1.1,0.22],[1.2,0.18],[1.3,0.15],[1.4,0.1],[1.5,0.05],[1.6,0.01],[1.7,0],[2,0]];
const Au_Yd=[[-6,0],[-5.75,0],[-5.7,0.05],[-5.5,0.04],[-5.3,0.03],[-5,0.04],[-4.8,0.03],[-4.65,0.08],[-4.55,0.2],[-4.48,0.3],[-4.4,0.15],[-4.3,0.08],[-4.1,0.05],[-3.8,0.04],[-3.5,0.03],[-3,0.03],[-2.5,0.04],[-2.2,0.06],[-2.0,0.08],[-1.9,0.12],[-1.8,0.2],[-1.7,0.16],[-1.6,0.15],[-1.5,0.18],[-1.4,0.22],[-1.3,0.2],[-1.2,0.25],[-1.1,0.3],[-1.0,0.35],[-0.9,0.4],[-0.8,0.45],[-0.7,0.5],[-0.6,0.6],[-0.5,0.5],[-0.45,0.55],[-0.4,0.82],[-0.32,0.65],[-0.25,0.6],[-0.18,0.75],[-0.1,0.95],[-0.05,0.85],[0,0.7],[0.05,0.75],[0.12,0.88],[0.2,0.65],[0.28,0.75],[0.35,0.85],[0.42,0.95],[0.5,1.0],[0.55,0.85],[0.62,0.7],[0.7,0.6],[0.78,0.55],[0.85,0.65],[0.92,0.8],[1.0,0.98],[1.08,1.05],[1.15,1.0],[1.22,1.03],[1.3,0.85],[1.38,0.6],[1.45,0.45],[1.52,0.3],[1.6,0.1],[1.7,0],[2,0]];

const Hg_Xs=[[-8.2,0],[-7.35,0],[-7.25,0.08],[-7.15,0],[-6.7,0],[-6.62,0.09],[-6.55,0],[-6.05,0],[-6.01,0.1],[-5.96,1.28],[-5.9,0.8],[-5.85,1.0],[-5.8,0.2],[-5.77,0.1],[-5.71,1.05],[-5.65,0.1],[-5.5,0.05],[-5.44,1.1],[-5.38,0.05],[-5.2,0.05],[-5.14,1.1],[-5.08,0.05],[-4.86,0.05],[-4.8,1.12],[-4.74,0.05],[-4.52,0.05],[-4.46,1.2],[-4.4,0.05],[-4.14,0.05],[-4.08,1.25],[-4.02,0.2],[-3.96,0.3],[-3.92,0.66],[-3.86,0.05],[-3.8,0.02],[-3.5,0.04],[-3,0.05],[-2.5,0.06],[-2,0.07],[-1.5,0.05],[-1,0.04],[-0.5,0.03],[0,0.02],[1,0.02],[1.5,0.01],[1.7,0],[2,0]];
const Hg_Xp=[[-8.2,0],[-2.5,0],[-2,0.05],[-1.7,0.07],[-1.5,0.08],[-1.2,0.1],[-1,0.12],[-0.7,0.15],[-0.5,0.18],[-0.3,0.22],[-0.2,0.25],[0,0.3],[0.1,0.28],[0.2,0.25],[0.4,0.22],[0.5,0.2],[0.7,0.17],[0.8,0.15],[1.0,0.12],[1.2,0.15],[1.35,0.12],[1.5,0.08],[1.7,0],[2,0]];
const Hg_Xd=[[-8.2,0],[-7.3,0],[-7.27,3],[-7.23,0],[-7.05,0.02],[-6.95,0.05],[-6.85,0.02],[-6.68,0],[-6.65,3],[-6.61,0],[-6.05,0],[-6.0,0.1],[-5.9,0.03],[-5.5,0.02],[-5.0,0.02],[-4.5,0.03],[-4.44,0.1],[-4.38,0.03],[-4.15,0.05],[-4.08,0.15],[-4.0,0.05],[-3.8,0.01],[-3,0.02],[-2.5,0.03],[-2,0.05],[-1.5,0.06],[-1,0.07],[-0.5,0.08],[0,0.1],[0.3,0.12],[0.6,0.08],[1,0.05],[1.5,0.02],[1.7,0],[2,0]];
const Hg_Ys=[[-8.2,0],[-7.3,0],[-7.22,0.04],[-7.1,0.01],[-6.7,0.01],[-6.62,0.04],[-6.5,0],[-6.05,0],[-6.0,0.1],[-5.9,0.05],[-5.7,0.06],[-5.5,0.05],[-5.2,0.05],[-5.0,0.04],[-4.8,0.05],[-4.5,0.05],[-4.2,0.06],[-4.0,0.06],[-3.8,0.04],[-3.5,0.05],[-3.2,0.06],[-3,0.06],[-2.8,0.07],[-2.5,0.08],[-2.3,0.09],[-2.2,0.1],[-2.0,0.12],[-1.9,0.14],[-1.8,0.15],[-1.65,0.13],[-1.5,0.12],[-1.3,0.1],[-1.1,0.09],[-1.0,0.08],[-0.7,0.07],[-0.5,0.06],[-0.2,0.05],[0,0.04],[0.5,0.03],[1,0.02],[1.5,0.01],[1.7,0],[2,0]];
const Hg_Yp=[[-8.2,0],[-7.3,0],[-7.22,0.02],[-7.1,0],[-6.05,0],[-6.0,0.05],[-5.8,0.02],[-5.0,0.02],[-4.5,0.02],[-4.0,0.03],[-3.5,0.01],[-3,0.02],[-2.5,0.03],[-2.2,0.05],[-2.12,0.2],[-2.05,0.08],[-1.8,0.1],[-1.5,0.1],[-1.2,0.12],[-1.0,0.12],[-0.8,0.15],[-0.6,0.18],[-0.4,0.2],[-0.2,0.25],[-0.1,0.3],[0,0.35],[0.1,0.3],[0.2,0.28],[0.3,0.3],[0.4,0.45],[0.45,0.55],[0.5,0.45],[0.55,0.3],[0.65,0.2],[0.75,0.15],[0.9,0.15],[1.0,0.2],[1.1,0.25],[1.2,0.2],[1.3,0.18],[1.4,0.12],[1.5,0.08],[1.6,0.03],[1.7,0],[2,0]];
const Hg_Yd=[[-8.2,0],[-7.3,0],[-7.22,0.02],[-7.1,0],[-6.05,0],[-6.0,0.12],[-5.92,0.03],[-5.7,0.04],[-5.44,0.03],[-5.14,0.04],[-4.8,0.03],[-4.46,0.15],[-4.4,0.05],[-4.15,0.08],[-4.08,0.15],[-4.0,0.08],[-3.85,0.02],[-3.5,0.02],[-3,0.02],[-2.5,0.04],[-2.2,0.07],[-2.0,0.1],[-1.9,0.15],[-1.8,0.2],[-1.7,0.22],[-1.6,0.25],[-1.5,0.22],[-1.4,0.24],[-1.3,0.28],[-1.2,0.3],[-1.1,0.35],[-1.0,0.38],[-0.9,0.42],[-0.8,0.48],[-0.7,0.52],[-0.6,0.55],[-0.5,0.72],[-0.42,0.65],[-0.35,0.6],[-0.28,0.75],[-0.2,0.95],[-0.12,0.85],[-0.05,0.8],[0,0.75],[0.08,0.78],[0.15,0.82],[0.22,0.78],[0.3,0.75],[0.4,0.9],[0.45,0.75],[0.5,0.6],[0.58,0.5],[0.65,0.45],[0.72,0.5],[0.8,0.6],[0.9,0.7],[1.0,0.8],[1.06,1.0],[1.12,1.1],[1.18,1.05],[1.25,1.08],[1.3,0.85],[1.4,0.55],[1.5,0.4],[1.6,0.1],[1.7,0],[2,0]];

// ---------------- LAYOUT ----------------
const FONT = 'Liberation Serif';
const ROW_TOP = [22, 216, 409];
const PLOT_H = 161;
const panels = [
  {name:'Al', row:0, left:315, width:240, xmin:-6,    ymax:1.44, xt:xTicksStd, yt:yTicksStd, lab:[320,43],  d:[Al_Xs,Al_Xp,Al_Xd,Al_Ys,Al_Yp,Al_Yd]},
  {name:'Sn', row:0, left:587, width:244, xmin:-6,    ymax:1.61, xt:xTicksStd, yt:yTicksSn,  lab:[608,43],  d:[Sn_Xs,Sn_Xp,Sn_Xd,Sn_Ys,Sn_Yp,Sn_Yd]},
  {name:'Zn', row:0, left:859, width:249, xmin:-7.13, ymax:1.44, xt:xTicksZn,  yt:yTicksStd, lab:[898,43],  d:[Zn_Xs,Zn_Xp,Zn_Xd,Zn_Ys,Zn_Yp,Zn_Yd]},
  {name:'Rh', row:1, left:32,  width:248, xmin:-6,    ymax:1.41, xt:xTicksStd, yt:yTicksStd, lab:[45,237],  d:[Rh_Xs,Rh_Xp,Rh_Xd,Rh_Ys,Rh_Yp,Rh_Yd]},
  {name:'Pd', row:1, left:315, width:240, xmin:-6,    ymax:1.41, xt:xTicksStd, yt:yTicksStd, lab:[320,237], d:[Pd_Xs,Pd_Xp,Pd_Xd,Pd_Ys,Pd_Yp,Pd_Yd]},
  {name:'Ag', row:1, left:587, width:244, xmin:-6,    ymax:1.39, xt:xTicksStd, yt:yTicksStd, lab:[590,237], d:[Ag_Xs,Ag_Xp,Ag_Xd,Ag_Ys,Ag_Yp,Ag_Yd]},
  {name:'Cd', row:1, left:862, width:248, xmin:-9.06, ymax:1.39, xt:xTicksCd,  yt:yTicksStd, lab:[897,245], d:[Cd_Xs,Cd_Xp,Cd_Xd,Cd_Ys,Cd_Yp,Cd_Yd]},
  {name:'Ir', row:2, left:32,  width:248, xmin:-6,    ymax:1.40, xt:xTicksStd, yt:yTicksStd, lab:[47,427],  d:[Ir_Xs,Ir_Xp,Ir_Xd,Ir_Ys,Ir_Yp,Ir_Yd]},
  {name:'Pt', row:2, left:315, width:240, xmin:-6,    ymax:1.41, xt:xTicksStd, yt:yTicksStd, lab:[325,427], d:[Pt_Xs,Pt_Xp,Pt_Xd,Pt_Ys,Pt_Yp,Pt_Yd]},
  {name:'Au', row:2, left:587, width:244, xmin:-6,    ymax:1.41, xt:xTicksStd, yt:yTicksStd, lab:[590,424], d:[Au_Xs,Au_Xp,Au_Xd,Au_Ys,Au_Yp,Au_Yd]},
  {name:'Hg', row:2, left:858, width:250, xmin:-8.2,  ymax:1.40, xt:xTicksHg,  yt:yTicksStd, lab:[927,420], d:[Hg_Xs,Hg_Xp,Hg_Xd,Hg_Ys,Hg_Yp,Hg_Yd]}
];
const STY = [
  {color:'#ef4a4a', width:1.1},
  {color:'#3f9f3f', width:1.1},
  {color:'#5a5af2', width:1.1},
  {color:'#ff1010', width:2},
  {color:'#17861a', width:2.3},
  {color:'#0a0aff', width:2.4}
];
const fmtNum = v => String(v).replace('-', '\u2212');

const grid = [], xAxis = [], yAxis = [], series = [], graphic = [];
panels.forEach((p, i) => {
  grid.push({left:p.left, top:ROW_TOP[p.row], width:p.width, height:PLOT_H});
  xAxis.push({
    type:'value', gridIndex:i, min:p.xmin, max:2,
    axisLine:{show:true, onZero:false, lineStyle:{color:'#9a9a9a', width:1}},
    axisTick:{show:true, inside:true, length:3, customValues:p.xt, lineStyle:{color:'#9a9a9a'}},
    minorTick:{show:false}, splitLine:{show:false},
    axisLabel:{show:true, customValues:p.xt, formatter:fmtNum, fontFamily:FONT, fontSize:14, color:'#222', margin:2, showMinLabel:true, showMaxLabel:true}
  });
  yAxis.push({
    type:'value', gridIndex:i, min:0, max:p.ymax,
    axisLine:{show:false}, axisTick:{show:false}, splitLine:{show:false},
    axisLabel:{show:true, customValues:p.yt, formatter:v => String(v), fontFamily:FONT, fontSize:14, color:'#222', margin:8}
  });
  p.d.forEach((arr, k) => {
    const s = {
      type:'line', xAxisIndex:i, yAxisIndex:i, data:arr, symbol:'none', showSymbol:false,
      clip:true, animation:false, silent:true, z:2 + k,
      lineStyle:{color:STY[k].color, width:STY[k].width, join:'round'}
    };
    if (k === 0) {
      s.markLine = {silent:true, symbol:['none','none'], label:{show:false}, animation:false,
        lineStyle:{color:'#f07c7c', type:[5,4], width:1.4}, data:[{xAxis:0}]};
    }
    series.push(s);
  });
  graphic.push({type:'text', left:p.lab[0], top:p.lab[1]-10, silent:true,
    style:{text:p.name, fontFamily:FONT, fontSize:16, fill:'#222'}});
});

// panel borders
const BORDER = '#f2b98a';
[[7,11,1110,11],[7,202,1110,202],[7,395,1110,395],[8,10,8,587],[285,10,285,587],[560,10,560,587],[838,10,838,587]]
  .forEach(l => graphic.push({type:'line', silent:true, shape:{x1:l[0],y1:l[1],x2:l[2],y2:l[3]}, style:{stroke:BORDER, lineWidth:3}}));

// legend
const legY = [40, 64, 88, 113, 137, 160];
legendLabels.forEach((t, k) => {
  graphic.push({type:'line', silent:true, shape:{x1:60,y1:legY[k],x2:87,y2:legY[k]}, style:{stroke:STY[k].color, lineWidth:STY[k].width}});
  graphic.push({type:'text', silent:true, x:92, y:legY[k],
    style:{text:t, fontFamily:FONT, fontSize:16, fill:'#222', verticalAlign:'middle',
      rich:{i:{fontStyle:'italic', fontFamily:FONT, fontSize:16, fill:'#222'}}}});
});

const chart = echarts.init(document.getElementById('c'), null, {renderer:'canvas', width:1110, height:587});
chart.setOption({backgroundColor:'#fff', animation:false, grid, xAxis, yAxis, series, graphic});
</script>
</body>
</html>
